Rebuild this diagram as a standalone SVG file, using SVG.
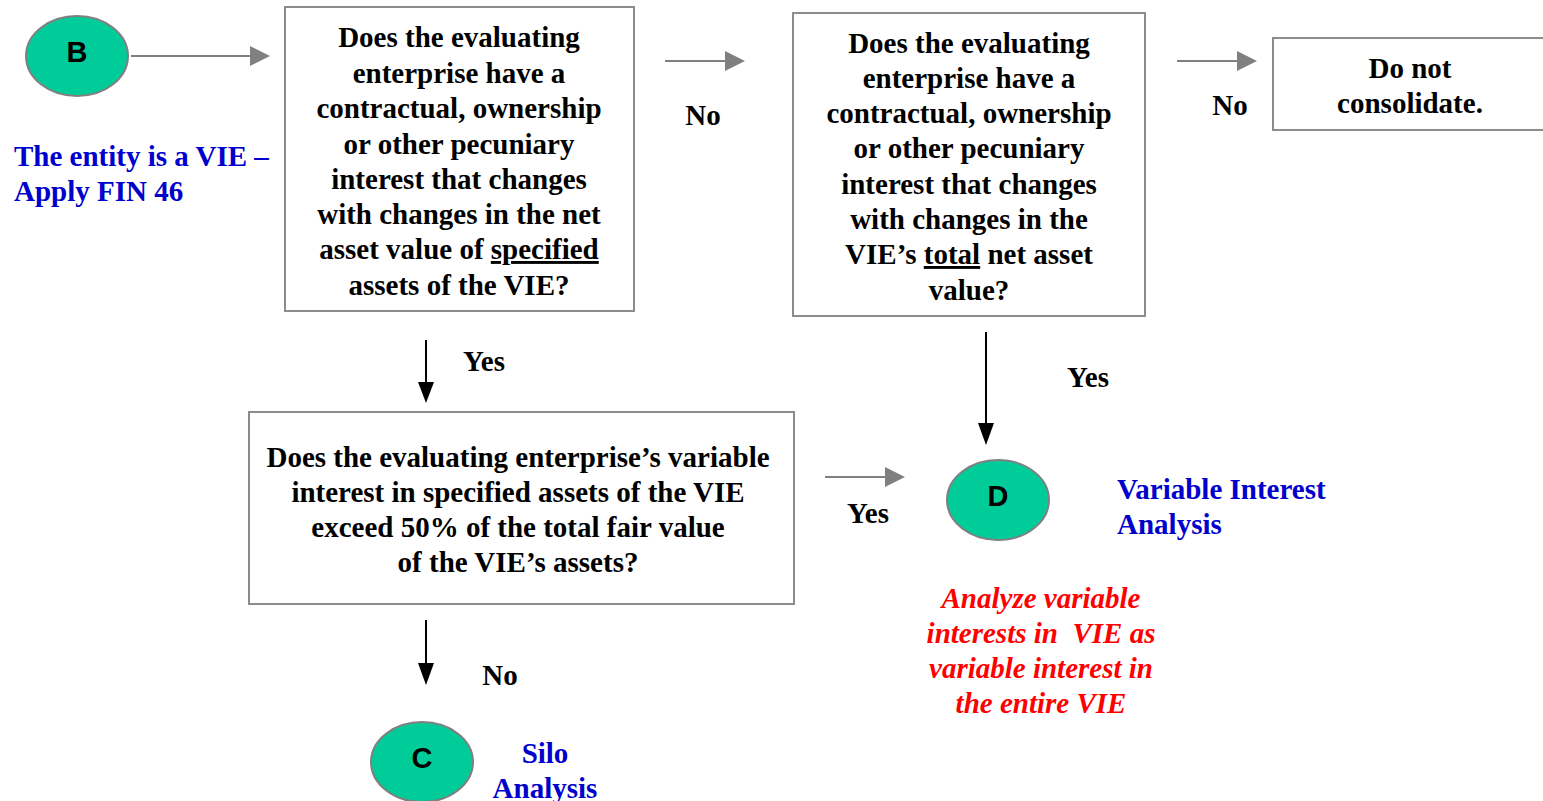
<svg xmlns="http://www.w3.org/2000/svg" width="1543" height="801" viewBox="0 0 1543 801">
<style>
.box{fill:#fff;stroke:#8c8c8c;stroke-width:2}
.t{font-family:"Liberation Serif","Times New Roman",serif;font-weight:bold;font-size:29px;fill:#000;text-anchor:middle}
.blue{font-family:"Liberation Serif","Times New Roman",serif;font-weight:bold;font-size:29px;fill:#0000CC}
.red{font-family:"Liberation Serif","Times New Roman",serif;font-weight:bold;font-style:italic;font-size:29px;fill:#FF0000;text-anchor:middle}
.circ{fill:#00CC99;stroke:#808080;stroke-width:2}
.lt{font-family:"Liberation Sans",Arial,sans-serif;font-weight:bold;font-size:29px;fill:#000;text-anchor:middle}
.g{stroke:#808080;stroke-width:2;fill:none}
.k{stroke:#000;stroke-width:2;fill:none}
</style>
<rect width="1543" height="801" fill="#fff"/>
<g id="connectors">
<line class="g" x1="131" y1="56" x2="252" y2="56"/><polygon points="250,46 270,56 250,66" fill="#808080"/>
<line class="g" x1="665" y1="61" x2="727" y2="61"/><polygon points="725,51 745,61 725,71" fill="#808080"/>
<line class="g" x1="1177" y1="61" x2="1239" y2="61"/><polygon points="1237,51 1257,61 1237,71" fill="#808080"/>
<line class="g" x1="825" y1="477" x2="887" y2="477"/><polygon points="885,467 905,477 885,487" fill="#808080"/>
<line class="k" x1="426" y1="340" x2="426" y2="385"/><polygon points="418,382 434,382 426,403" fill="#000"/>
<line class="k" x1="426" y1="620" x2="426" y2="666"/><polygon points="418,663 434,663 426,685" fill="#000"/>
<line class="k" x1="986" y1="332" x2="986" y2="426"/><polygon points="978,423 994,423 986,445" fill="#000"/>
<text class="t" x="703" y="125">No</text>
<text class="t" x="1230" y="115">No</text>
<text class="t" x="484" y="371">Yes</text>
<text class="t" x="868" y="523">Yes</text>
<text class="t" x="500" y="685">No</text>
<text class="t" x="1088" y="387">Yes</text>
</g>
<g id="nodeB">
<ellipse class="circ" cx="77" cy="56" rx="51" ry="40"/>
<text class="lt" x="77" y="62">B</text>
<text class="blue" x="14" y="166">The entity is a VIE –</text>
<text class="blue" x="14" y="201">Apply FIN 46</text>
</g>
<g id="q1">
<rect class="box" x="285" y="7" width="349" height="304"/>
<text class="t" x="459" y="47">Does the evaluating</text>
<text class="t" x="459" y="83">enterprise have a</text>
<text class="t" x="459" y="118">contractual, ownership</text>
<text class="t" x="459" y="154">or other pecuniary</text>
<text class="t" x="459" y="189">interest that changes</text>
<text class="t" x="459" y="224">with changes in the net</text>
<text class="t" x="459" y="259">asset value of <tspan text-decoration="underline">specified</tspan></text>
<text class="t" x="459" y="295">assets of the VIE?</text>
</g>
<g id="q2">
<rect class="box" x="793" y="13" width="352" height="303"/>
<text class="t" x="969" y="53">Does the evaluating</text>
<text class="t" x="969" y="88">enterprise have a</text>
<text class="t" x="969" y="123">contractual, ownership</text>
<text class="t" x="969" y="158">or other pecuniary</text>
<text class="t" x="969" y="194">interest that changes</text>
<text class="t" x="969" y="229">with changes in the</text>
<text class="t" x="969" y="264">VIE’s <tspan text-decoration="underline">total</tspan> net asset</text>
<text class="t" x="969" y="300">value?</text>
</g>
<g id="noconsolidate">
<rect class="box" x="1273" y="38" width="280" height="92"/>
<text class="t" x="1410" y="78">Do not</text>
<text class="t" x="1410" y="113">consolidate.</text>
</g>
<g id="q3">
<rect class="box" x="249" y="412" width="545" height="192"/>
<text class="t" x="518" y="467">Does the evaluating enterprise’s variable</text>
<text class="t" x="518" y="502">interest in specified assets of the VIE</text>
<text class="t" x="518" y="537">exceed 50% of the total fair value</text>
<text class="t" x="518" y="572">of the VIE’s assets?</text>
</g>
<g id="nodeD">
<ellipse class="circ" cx="998" cy="500" rx="51" ry="40"/>
<text class="lt" x="998" y="506">D</text>
<text class="blue" x="1117" y="499">Variable Interest</text>
<text class="blue" x="1117" y="534">Analysis</text>
<text class="red" x="1041" y="608">Analyze variable</text>
<text class="red" x="1041" y="643" xml:space="preserve">interests in  VIE as</text>
<text class="red" x="1041" y="678">variable interest in</text>
<text class="red" x="1041" y="713">the entire VIE</text>
</g>
<g id="nodeC">
<ellipse class="circ" cx="422" cy="762" rx="51" ry="40"/>
<text class="lt" x="422" y="768">C</text>
<text class="blue" x="545" y="763" text-anchor="middle">Silo</text>
<text class="blue" x="545" y="798" text-anchor="middle">Analysis</text>
</g>
</svg>
